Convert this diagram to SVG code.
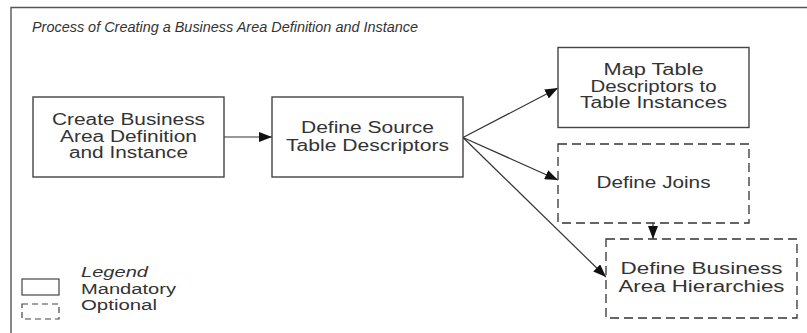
<svg xmlns="http://www.w3.org/2000/svg" width="807" height="333" viewBox="0 0 807 333">
<defs>
<marker id="arr" markerUnits="userSpaceOnUse" markerWidth="14" markerHeight="10" refX="13" refY="5" orient="auto">
<path d="M0,0 L13,5 L0,10 Z" fill="#111"/>
</marker>
<style>
.box{fill:#fff;stroke:#444;stroke-width:1.4}
.opt{fill:#fff;stroke:#333;stroke-width:1.3;stroke-dasharray:9 5}
.t{font-family:"Liberation Sans",Arial,sans-serif;font-size:16px;fill:#333;text-anchor:middle}
.it{font-family:"Liberation Sans",Arial,sans-serif;font-style:italic;fill:#333}
.lg{font-family:"Liberation Sans",Arial,sans-serif;font-size:14px;fill:#333}
.c{fill:none;stroke:#333;stroke-width:1.2}
</style>
</defs>
<rect width="807" height="333" fill="#fff"/>
<path d="M11,333 L11,7.5 L807,7.5" fill="none" stroke="#555" stroke-width="1.4"/>
<text class="it" x="32" y="32" font-size="15.5" textLength="386" lengthAdjust="spacingAndGlyphs">Process of Creating a Business Area Definition and Instance</text>

<g id="connectors">
<line class="c" x1="224" y1="137" x2="272" y2="137" marker-end="url(#arr)"/>
<line class="c" x1="463" y1="137.5" x2="558" y2="88" marker-end="url(#arr)"/>
<line class="c" x1="463" y1="137.5" x2="558" y2="180" marker-end="url(#arr)"/>
<line class="c" x1="463" y1="137.5" x2="606" y2="277" marker-end="url(#arr)"/>
<line class="c" x1="653" y1="223" x2="653" y2="239" marker-end="url(#arr)"/>
</g>

<g id="create">
<rect class="box" x="33" y="97" width="191" height="80"/>
<text class="t" x="128.5" y="125" textLength="153" lengthAdjust="spacingAndGlyphs">Create Business</text>
<text class="t" x="128.5" y="141.7" textLength="137" lengthAdjust="spacingAndGlyphs">Area Definition</text>
<text class="t" x="128.5" y="158.3" textLength="119" lengthAdjust="spacingAndGlyphs">and Instance</text>
</g>

<g id="source">
<rect class="box" x="272" y="97" width="191" height="80"/>
<text class="t" x="367.5" y="133.3" textLength="133" lengthAdjust="spacingAndGlyphs">Define Source</text>
<text class="t" x="367.5" y="150.5" textLength="163" lengthAdjust="spacingAndGlyphs">Table Descriptors</text>
</g>

<g id="map">
<rect class="box" x="558" y="47.5" width="191" height="80"/>
<text class="t" x="653.5" y="75" textLength="100" lengthAdjust="spacingAndGlyphs">Map Table</text>
<text class="t" x="653.5" y="91.7" textLength="126" lengthAdjust="spacingAndGlyphs">Descriptors to</text>
<text class="t" x="653.5" y="108.3" textLength="147" lengthAdjust="spacingAndGlyphs">Table Instances</text>
</g>

<g id="joins">
<rect class="opt" x="558" y="144" width="191" height="79"/>
<text class="t" x="653.5" y="188.3" textLength="114" lengthAdjust="spacingAndGlyphs">Define Joins</text>
</g>

<g id="hier">
<rect class="opt" x="606" y="239" width="191" height="79"/>
<text class="t" x="701.5" y="274.3" textLength="162" lengthAdjust="spacingAndGlyphs">Define Business</text>
<text class="t" x="701.5" y="291.5" textLength="166" lengthAdjust="spacingAndGlyphs">Area Hierarchies</text>
</g>

<g id="legend">
<text class="it" x="81" y="276.7" font-size="14" textLength="67" lengthAdjust="spacingAndGlyphs">Legend</text>
<rect x="22" y="279" width="37" height="16" fill="#fff" stroke="#444" stroke-width="1.2"/>
<text class="lg" x="81" y="294" textLength="95" lengthAdjust="spacingAndGlyphs">Mandatory</text>
<rect x="22" y="304" width="37" height="15" fill="#fff" stroke="#444" stroke-width="1.2" stroke-dasharray="6 4"/>
<text class="lg" x="81" y="310" textLength="76" lengthAdjust="spacingAndGlyphs">Optional</text>
</g>
</svg>
